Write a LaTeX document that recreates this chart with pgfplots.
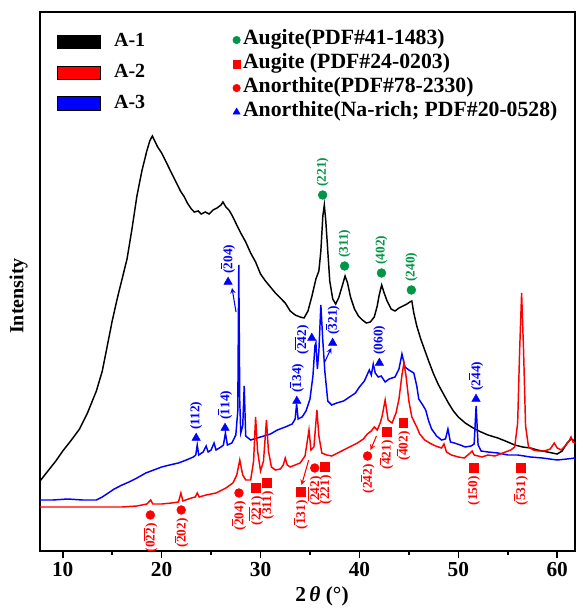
\documentclass[border=0pt]{standalone}
\usepackage{fontspec}
\setmainfont{Liberation Serif}
\usepackage{pgfplots}
\pgfplotsset{compat=1.18}
\definecolor{agreen}{RGB}{0,150,70}
\newcommand{\ob}[1]{$\overline{\mbox{#1}}$}
\tikzset{lab/.style={rotate=90, font=\fontsize{10}{10}\selectfont\bfseries, inner sep=0pt}}
\pgfplotsset{
  rect/.style={legend image code/.code={\draw[fill=#1,draw=black,line width=0.7pt] (0pt,-5pt) rectangle (32pt,5pt); \path (40pt,0pt);}},
  mk/.style={legend image code/.code={\draw[##1] plot coordinates {(4pt,0pt)};}},
}
\begin{document}
\begin{tikzpicture}
\begin{axis}[
  name=main,
  width=401.25pt, height=404.25pt, scale only axis,
  xmin=7.7, xmax=61.8, ymin=0, ymax=539,
  clip=false,
  axis line style={line width=1.6pt},
  xtick={10,20,30,40,50,60},
  minor xtick={15,25,35,45,55},
  xtick pos=bottom, ytick=\empty,
  tick align=outside,
  major tick length=5pt, minor tick length=3pt,
  every tick/.style={line width=1.2pt, black},
  /pgf/number format/assume math mode=true,
  xticklabel style={font=\fontsize{16}{16}\selectfont\bfseries, yshift=0pt},
  xlabel={\textbf{2\,\textit{θ} (°)}},
  xlabel style={font=\fontsize{16}{16}\selectfont, at={(axis description cs:0.527,0)}, anchor=center, yshift=-34pt},
  ylabel={\textbf{Intensity}},
  ylabel style={font=\fontsize{15}{15}\selectfont, at={(axis description cs:0,0.473)}, anchor=center, yshift=16pt},
  legend style={draw=none, fill=none, at={(0.032,0.963)}, anchor=north west,
    font=\fontsize{15}{15}\selectfont\bfseries, inner xsep=0pt, inner ysep=0pt, row sep=8pt,
    nodes={text height=11pt, text depth=4pt, inner ysep=0pt}},
  legend cell align=left,
]
\addlegendimage{rect=black}\addlegendentry{A-1}
\addlegendimage{rect=red}\addlegendentry{A-2}
\addlegendimage{rect=blue}\addlegendentry{A-3}

% A-1 black
\addplot[black, line width=1.1pt, forget plot] coordinates {
(7.7,70)(8.5,80)(9.3,90)(10.0,100)(10.8,110)(11.7,122)(12.5,138)(13.4,160)(14.0,180)(14.5,205)
(15.0,230)(15.5,252)(16.0,272)(16.5,292)(17.0,322)(17.5,355)(18.0,380)(18.5,400)(18.8,410)(19.06,415)
(19.3,410)(19.6,404)(20.0,398)(20.4,390)(20.8,382)(21.2,374)(21.5,368)(21.9,360)(22.3,354)(22.6,348)
(23.0,342)(23.3,339)(23.7,340)(24.0,337)(24.4,339)(24.8,337)(25.2,341)(25.6,343)(26.0,346)(26.2,349)
(26.5,344)(26.8,341)(27.1,336)(27.5,328)(28.0,318)(28.5,309)(29.0,298)(29.5,289)(30.0,277)(30.5,270)
(31.0,264)(31.5,258)(32.0,253)(32.5,248)(33.0,240)(33.5,236)(34.0,234)(34.4,233)(34.8,240)(35.2,255)
(35.6,272)(35.9,280)(36.1,300)(36.3,335)(36.45,346)(36.6,330)(36.8,300)(37.0,270)(37.3,252)(37.6,247)
(37.9,253)(38.2,263)(38.55,275)(38.8,268)(39.1,254)(39.5,242)(39.9,235)(40.3,231)(40.7,228)(41.1,229)
(41.5,234)(41.8,245)(42.0,256)(42.25,266)(42.5,258)(42.8,250)(43.2,242)(43.6,240)(44.0,243)(44.4,245)
(44.8,247)(45.1,249)(45.3,250)(45.5,238)(45.8,225)(46.2,212)(46.6,201)(47.0,190)(47.5,177)(48.0,166)
(48.5,157)(49.0,148)(49.5,140)(50.0,134)(50.7,128)(51.5,123)(52.3,119)(53.0,116)(54.0,113)(55.0,109)
(55.7,106)(56.5,104)(57.3,103)(58.0,101)(59.0,99)(60.0,97)(60.5,100)(61.0,108)(61.4,112)(61.8,110)
};
% A-3 blue
\addplot[blue, line width=1.1pt, forget plot] coordinates {
(7.7,51)(9.0,51)(10.5,52)(12.0,51)(13.4,51)(14.0,54)(14.6,58)(15.2,62)(16.0,66)(16.7,69)
(17.5,73)(18.4,78)(19.2,81)(20.0,84)(20.8,86)(21.7,88)(22.5,91)(23.2,94)(23.45,96)(23.6,106)
(23.75,96)(24.2,99)(24.5,105)(24.7,99)(25.0,101)(25.3,108)(25.5,101)(26.0,104)(26.25,106)(26.45,118)
(26.65,106)(27.1,108)(27.5,116)(27.7,140)(27.8,286)(27.9,150)(28.0,118)(28.2,125)(28.35,165)(28.5,115)
(29.0,111)(30.0,114)(31.0,117)(31.7,121)(32.5,124)(33.2,127)(33.5,132)(33.65,147)(33.8,132)(34.2,134)
(34.6,140)(35.0,152)(35.3,175)(35.5,205)(35.6,208)(35.75,182)(35.9,200)(36.1,246)(36.3,210)(36.5,180)
(36.8,150)(37.2,146)(37.7,148)(38.4,150)(39.0,154)(39.6,158)(40.0,164)(40.5,170)(41.0,181)(41.2,176)
(41.4,187)(41.6,178)(41.9,174)(42.2,175)(42.6,169)(43.0,172)(43.6,174)(44.0,182)(44.3,197)(44.6,184)
(45.0,181)(45.5,178)(45.8,165)(46.0,152)(46.4,146)(46.7,141)(47.0,130)(47.3,122)(47.8,115)(48.3,111)
(48.7,112)(48.95,122)(49.2,109)(49.6,108)(50.2,106)(50.7,104)(51.3,105)(51.6,107)(51.8,145)(52.0,106)
(52.3,100)(53.0,99)(54.0,98)(55.0,96)(56.0,96)(57.3,94)(58.5,93)(60.0,91)(61.0,92)(61.8,93)
};
% A-2 red
\addplot[red, line width=1.1pt, forget plot] coordinates {
(7.7,44)(10.0,44)(12.0,44)(14.0,44)(16.0,44)(17.5,45)(18.5,47)(18.9,51)(19.1,47)(20.0,47)
(21.0,48)(21.7,49)(21.95,58)(22.15,50)(23.0,53)(23.4,54)(23.6,58)(23.8,54)(24.5,56)(25.5,58)
(26.5,63)(27.2,68)(27.6,76)(27.9,91)(28.2,76)(28.5,71)(29.0,71)(29.3,90)(29.5,134)(29.7,100)
(30.0,80)(30.3,90)(30.6,131)(30.8,100)(31.1,84)(31.5,81)(32.0,82)(32.3,86)(32.5,93)(32.7,86)
(33.0,84)(33.5,86)(34.0,88)(34.5,95)(34.7,108)(34.9,121)(35.1,101)(35.4,104)(35.7,141)(35.9,115)
(36.2,98)(36.7,96)(37.2,95)(38.0,99)(39.0,104)(39.8,108)(40.4,112)(40.8,117)(41.2,120)(41.5,124)
(41.8,121)(42.1,128)(42.3,135)(42.6,151)(42.9,131)(43.3,128)(43.7,138)(44.0,152)(44.3,176)(44.5,188)
(44.7,176)(45.0,150)(45.3,134)(45.8,124)(46.1,117)(46.6,111)(47.1,108)(47.7,105)(48.3,103)(48.55,107)
(48.8,99)(49.3,96)(50.0,94)(50.6,93)(51.2,98)(51.4,100)(51.6,96)(52.4,94)(53.0,96)(53.7,95)
(54.5,98)(55.3,101)(55.7,104)(56.0,128)(56.2,200)(56.4,258)(56.6,200)(56.8,125)(57.1,104)(57.6,101)
(58.1,100)(58.7,100)(59.3,102)(59.7,108)(60.0,103)(60.4,101)(60.9,106)(61.2,110)(61.4,114)(61.6,109)(61.8,108)
};

% markers
\addplot[only marks, mark=*, agreen, mark size=3.3pt, forget plot] coordinates {(36.28,356)(38.50,285)(42.23,278)(45.25,261)};
\addplot[only marks, mark=triangle*, blue, mark size=3.6pt, forget plot] coordinates {(23.49,113)(26.41,123)(26.72,269)(33.67,150)(35.18,213)(37.29,208)(42.02,188)(51.79,152)};
\addplot[only marks, mark=*, red, mark size=3.3pt, forget plot] coordinates {(18.86,36)(21.98,41)(27.82,58)(35.48,83)(40.82,95)};
\addplot[only marks, mark=square*, red, mark size=3.3pt, forget plot] coordinates {(29.54,63)(30.64,68)(34.07,59)(36.49,84)(42.73,119)(44.44,128)(51.59,83)(56.32,83)};

% green labels
\node[lab, agreen, anchor=west] at (axis cs:36.28,364) {(221)};
\node[lab, agreen, anchor=west] at (axis cs:38.50,293) {(311)};
\node[lab, agreen, anchor=west] at (axis cs:42.23,286) {(402)};
\node[lab, agreen, anchor=west] at (axis cs:45.25,269) {(240)};
% blue labels
\node[lab, blue, anchor=west] at (axis cs:23.49,121) {(112)};
\node[lab, blue, anchor=west] at (axis cs:26.41,131) {(\ob{1}14)};
\node[lab, blue, anchor=west] at (axis cs:26.72,277) {(\ob{2}04)};
\node[lab, blue, anchor=west] at (axis cs:33.67,158) {(\ob{1}34)};
\node[lab, blue, anchor=center] at (axis cs:34.17,211) {(\ob{2}\ob{4}2)};
\node[lab, blue, anchor=west] at (axis cs:37.29,216) {(\ob{3}21)};
\node[lab, blue, anchor=west] at (axis cs:42.02,196) {(060)};
\node[lab, blue, anchor=west] at (axis cs:51.79,160) {(2\ob{4}4)};
% red labels
\node[lab, red, anchor=east] at (axis cs:18.86,28) {(0\ob{2}\ob{2})};
\node[lab, red, anchor=east] at (axis cs:21.98,33) {(\ob{2}02)};
\node[lab, red, anchor=east] at (axis cs:27.82,50) {(\ob{2}04)};
\node[lab, red, anchor=east] at (axis cs:29.54,55) {(\ob{2}\ob{2}1)};
\node[lab, red, anchor=east] at (axis cs:30.64,60) {(\ob{3}11)};
\node[lab, red, anchor=east] at (axis cs:34.07,51) {(\ob{1}31)};
\node[lab, red, anchor=east] at (axis cs:35.48,75) {(\ob{2}\ob{4}2)};
\node[lab, red, anchor=east] at (axis cs:36.49,76) {(\ob{2}21)};
\node[lab, red, anchor=east] at (axis cs:40.82,87) {(2\ob{4}2)};
\node[lab, red, anchor=east] at (axis cs:42.73,111) {(\ob{4}21)};
\node[lab, red, anchor=east] at (axis cs:44.44,120) {(\ob{4}02)};
\node[lab, red, anchor=east] at (axis cs:51.59,75) {(150)};
\node[lab, red, anchor=east] at (axis cs:56.32,75) {(\ob{5}31)};
% arrows
\draw[blue, line width=0.8pt, ->, >=stealth] (axis cs:27.52,239) -- (axis cs:27.12,263);
\draw[blue, line width=0.8pt, ->, >=stealth] (axis cs:36.49,189) -- (axis cs:37.15,203);
\draw[red, line width=0.8pt, ->, >=stealth] (axis cs:34.87,91) -- (axis cs:34.15,66);
\draw[red, line width=0.8pt, ->, >=stealth] (axis cs:41.72,115) -- (axis cs:41.12,101);
\end{axis}

\begin{axis}[
  width=401.25pt, height=404.25pt, scale only axis,
  xmin=7.7, xmax=61.8, ymin=0, ymax=539, hide axis,
  legend style={draw=none, fill=none, at={(0.36,0.967)}, anchor=north west,
    font=\fontsize{16.3}{16.3}\selectfont\bfseries, inner xsep=0pt, inner ysep=0pt, row sep=3pt,
    nodes={text height=11pt, text depth=4pt, inner ysep=0pt}},
  legend cell align=left,
]
\addlegendimage{mk, only marks, mark=*, agreen, mark size=2.8pt}\addlegendentry{Augite(PDF\#41-1483)}
\addlegendimage{mk, only marks, mark=square*, red, mark size=2.8pt}\addlegendentry{Augite (PDF\#24-0203)}
\addlegendimage{mk, only marks, mark=*, red, mark size=2.8pt}\addlegendentry{Anorthite(PDF\#78-2330)}
\addlegendimage{mk, only marks, mark=triangle*, blue, mark size=3pt}\addlegendentry{Anorthite(Na-rich; PDF\#20-0528)}
\end{axis}
\pgfresetboundingbox
\path ([xshift=-30pt,yshift=-46.5pt]main.south west) rectangle ([xshift=1.5pt,yshift=9pt]main.north east);
\end{tikzpicture}
\end{document}
